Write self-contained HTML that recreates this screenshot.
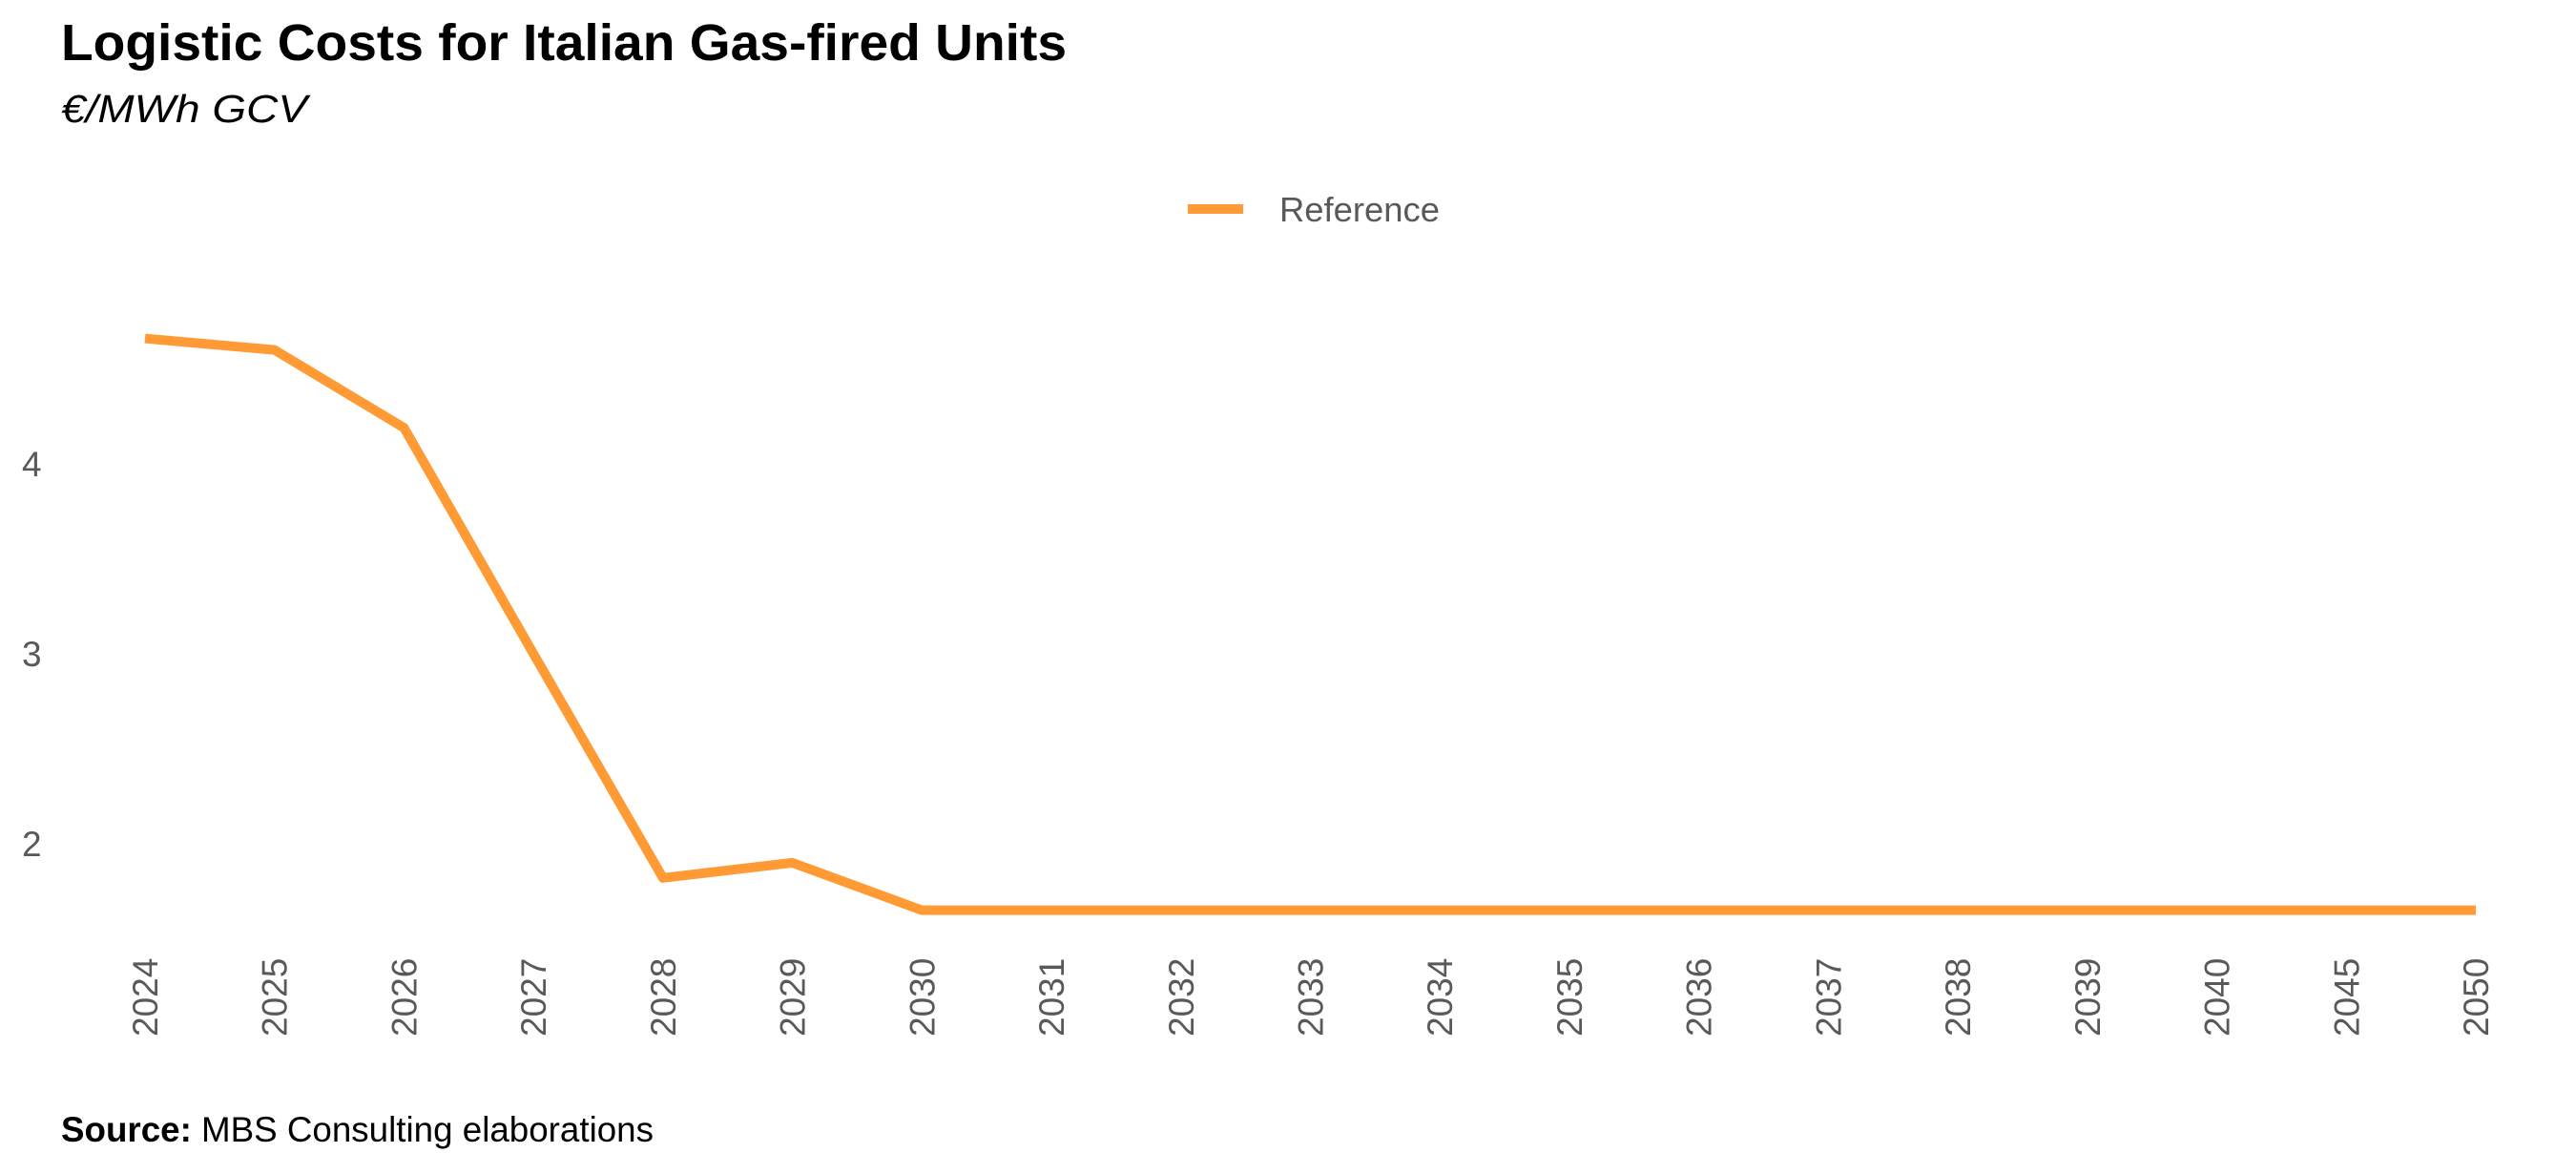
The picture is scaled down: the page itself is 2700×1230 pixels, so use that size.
<!DOCTYPE html>
<html><head><meta charset="utf-8"><style>
html,body{margin:0;padding:0;background:#fff;}
svg{display:block;font-family:"Liberation Sans",Arial,sans-serif;}
</style></head><body>
<svg id="chart" width="2700" height="1230" viewBox="0 0 2700 1230" xmlns="http://www.w3.org/2000/svg">
<text x="64" y="63" font-size="54" font-weight="bold" fill="#000" textLength="1054" lengthAdjust="spacingAndGlyphs">Logistic Costs for Italian Gas-fired Units</text>
<text x="64" y="128" font-size="41" font-style="italic" fill="#000" textLength="258" lengthAdjust="spacingAndGlyphs">€/MWh GCV</text>
<g>
<line x1="1245" y1="219" x2="1303" y2="219" stroke="#FF9A35" stroke-width="10"/>
<text x="1341" y="232" font-size="36" fill="#595959" textLength="168" lengthAdjust="spacingAndGlyphs">Reference</text>
</g>
<g id="yaxis"></g>
<g id="xaxis"></g>
<g id="series"></g>
<text x="64" y="1196" font-size="37" fill="#000" textLength="621" lengthAdjust="spacingAndGlyphs"><tspan font-weight="bold">Source:</tspan> MBS Consulting elaborations</text>
</svg>
<script>
const categories = ["2024","2025","2026","2027","2028","2029","2030","2031","2032","2033","2034","2035","2036","2037","2038","2039","2040","2045","2050"];
const referenceValues = [4.66,4.60,4.19,3.00,1.82,1.90,1.65,1.65,1.65,1.65,1.65,1.65,1.65,1.65,1.65,1.65,1.65,1.65,1.65];
const yTicks = [2,3,4];

const NS = "http://www.w3.org/2000/svg";
const x0 = 152, x1 = 2595;
function xScale(i){ return x0 + i*(x1-x0)/(categories.length-1); }
function yScale(v){ return 486 - (v-4)*199; }

const yAxis = document.getElementById('yaxis');
yTicks.forEach(t=>{
  const el = document.createElementNS(NS,'text');
  el.setAttribute('x', 23);
  el.setAttribute('y', yScale(t)+13);
  el.setAttribute('font-size', 37);
  el.setAttribute('fill', '#595959');
  el.textContent = t;
  
  
  yAxis.appendChild(el);
});

const xAxis = document.getElementById('xaxis');
categories.forEach((c,i)=>{
  const el = document.createElementNS(NS,'text');
  const x = xScale(i)+13, y = 1086;
  el.setAttribute('x', x);
  el.setAttribute('y', y);
  el.setAttribute('transform', `rotate(-90 ${x} ${y})`);
  el.setAttribute('font-size', 37);
  el.setAttribute('fill', '#595959');
  el.textContent = c;
  
  
  xAxis.appendChild(el);
});

const series = document.getElementById('series');
const path = document.createElementNS(NS,'polyline');
path.setAttribute('points', referenceValues.map((v,i)=>xScale(i)+','+yScale(v)).join(' '));
path.setAttribute('fill','none');
path.setAttribute('stroke','#FF9A35');
path.setAttribute('stroke-width','10');
path.setAttribute('stroke-linejoin','round');


series.appendChild(path);
</script>
</body></html>
